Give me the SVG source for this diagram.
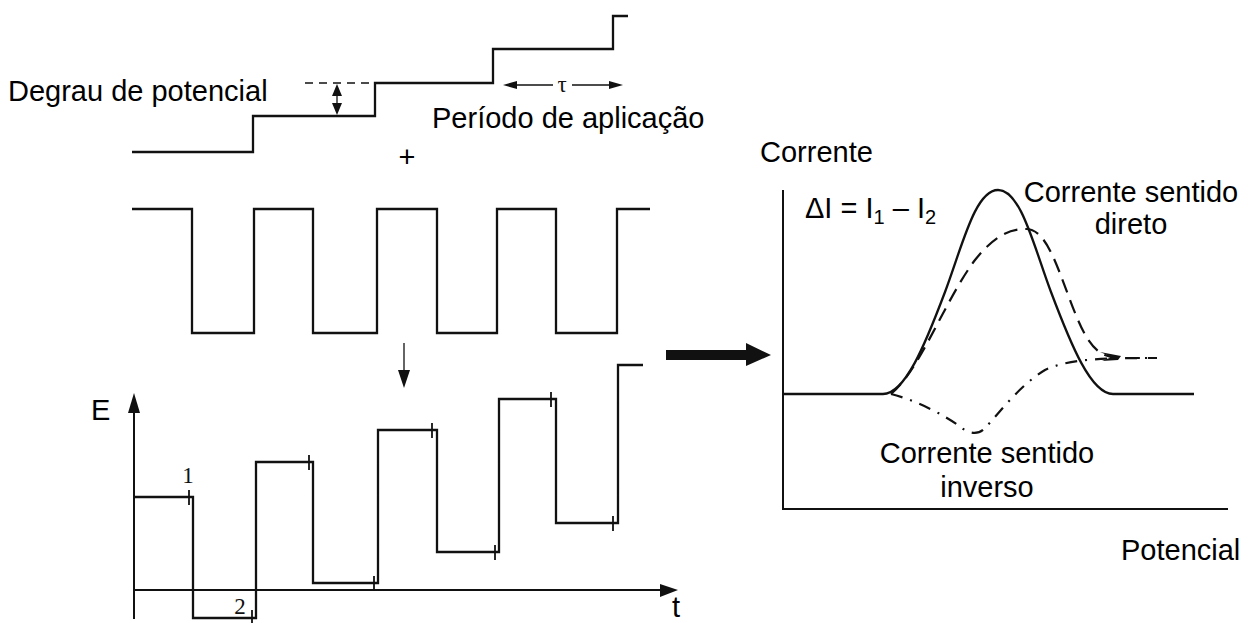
<svg xmlns="http://www.w3.org/2000/svg" width="1253" height="623" viewBox="0 0 1253 623">
  <style>
    .wave { fill: none; stroke: #111; stroke-width: 2.3; stroke-linejoin: miter; stroke-linecap: butt; }
    .axis { fill: none; stroke: #111; stroke-width: 2; }
    .thin { fill: none; stroke: #111; stroke-width: 1.3; }
    .tick { fill: none; stroke: #111; stroke-width: 1.8; }
    .head { fill: #111; stroke: none; }
    .lbl { font-family: "Liberation Sans", Arial, sans-serif; font-size: 29px; fill: #000; }
    .num { font-family: "Liberation Serif", "Times New Roman", serif; font-size: 23px; fill: #111; }
    .dash { fill: none; stroke: #111; stroke-width: 2.2; stroke-dasharray: 14 8; }
    .dashdot { fill: none; stroke: #111; stroke-width: 2.2; stroke-dasharray: 12 8 2 8; }
  </style>

  <!-- staircase ramp of potential steps -->
  <g id="staircase">
    <path class="wave" d="M132,152 H253 V116 H375 V83 H493 V49 H613 V16 H628"/>
    <!-- step height marker -->
    <line class="thin" x1="305" y1="83" x2="375" y2="83" stroke-dasharray="8 6"/>
    <line class="thin" x1="337" y1="92" x2="337" y2="107"/>
    <polygon class="head" points="337,84 332,96 342,96"/>
    <polygon class="head" points="337,115 332,103 342,103"/>
    <!-- period marker -->
    <line class="thin" x1="514" y1="85" x2="553" y2="85"/>
    <line class="thin" x1="572" y1="85" x2="612" y2="85"/>
    <polygon class="head" points="503,85 517,81 517,89"/>
    <polygon class="head" points="623,85 609,81 609,89"/>
    <text class="num" x="562" y="92" text-anchor="middle" font-size="19">τ</text>
    <text class="lbl" x="8" y="101">Degrau de potencial</text>
    <text class="lbl" x="432" y="128">Período de aplicação</text>
  </g>

  <g id="plus">
    <text class="lbl" x="407" y="167" text-anchor="middle">+</text>
  </g>

  <!-- superimposed square pulse train -->
  <g id="square-wave">
    <path class="wave" d="M132,209 H192 V333 H254 V209 H313 V333 H377 V209 H437 V333 H497 V209 H556 V333 H617 V209 H650"/>
  </g>

  <!-- resulting applied potential vs time -->
  <g id="potential-plot">
    <line class="axis" x1="134" y1="410" x2="134" y2="619"/>
    <polygon class="head" points="134,393 128,413 140,413"/>
    <line class="axis" x1="134" y1="590" x2="662" y2="590"/>
    <polygon class="head" points="678,590 660,584 660,597"/>
    <text class="lbl" x="91" y="420">E</text>
    <text class="lbl" x="672" y="617">t</text>
    <path class="wave" d="M134,497 H193 V618 H256 V462 H313 V583 H378 V430 H437 V552 H499 V399 H556 V523 H618 V365 H643"/>
    <g class="tick">
      <line x1="189" y1="490" x2="189" y2="505"/>
      <line x1="252" y1="610" x2="252" y2="624"/>
      <line x1="309" y1="455" x2="309" y2="470"/>
      <line x1="374" y1="576" x2="374" y2="591"/>
      <line x1="432" y1="423" x2="432" y2="438"/>
      <line x1="495" y1="545" x2="495" y2="560"/>
      <line x1="551" y1="392" x2="551" y2="407"/>
      <line x1="613" y1="516" x2="613" y2="531"/>
    </g>
    <text class="num" x="188" y="483" text-anchor="middle">1</text>
    <text class="num" x="240" y="614" text-anchor="middle">2</text>
  </g>

  <!-- current response vs potential -->
  <g id="current-plot">
    <line class="axis" x1="783" y1="190" x2="783" y2="509"/>
    <line class="axis" x1="782" y1="509" x2="1228" y2="509"/>
    <!-- net differential current -->
    <path class="wave" d="M783,394 H883 C905,394 925,345 945,292 C962,247 975,190 998,190 C1021,190 1034,247 1051,292 C1071,345 1091,394 1113,394 H1194"/>
    <!-- forward current -->
    <path class="dash" d="M891,394 C920,370 945,300 975,260 C995,235 1010,229 1026,229 C1045,229 1055,260 1070,300 C1085,340 1095,357 1118,358 L1157,358"/>
    <polygon class="head" points="1100,352 1121,356 1118,360 1102,361 1112,357"/>
    <!-- reverse current -->
    <path class="dashdot" d="M891,394 C915,400 945,415 962,428 C968,433 978,436 985,428 C1000,412 1020,385 1045,370 C1070,358 1110,358 1157,358"/>
    <text class="lbl" x="760" y="162">Corrente</text>
    <text class="lbl" x="805" y="218">ΔI = I<tspan font-size="20" dy="6">1</tspan><tspan dy="-6"> – I</tspan><tspan font-size="20" dy="6">2</tspan></text>
    <text class="lbl" x="1131" y="202" text-anchor="middle">Corrente sentido</text>
    <text class="lbl" x="1131" y="234" text-anchor="middle">direto</text>
    <text class="lbl" x="987" y="463" text-anchor="middle">Corrente sentido</text>
    <text class="lbl" x="987" y="497" text-anchor="middle">inverso</text>
    <text class="lbl" x="1121" y="560">Potencial</text>
  </g>

  <!-- connectors -->
  <g id="connectors">
    <line class="thin" x1="404" y1="343" x2="404" y2="372" stroke-width="1.8"/>
    <polygon class="head" points="398,370 410,370 404,388"/>
    <polygon class="head" points="666,350 746,350 746,343 771,355 746,366 746,360 666,360"/>
  </g>
</svg>
